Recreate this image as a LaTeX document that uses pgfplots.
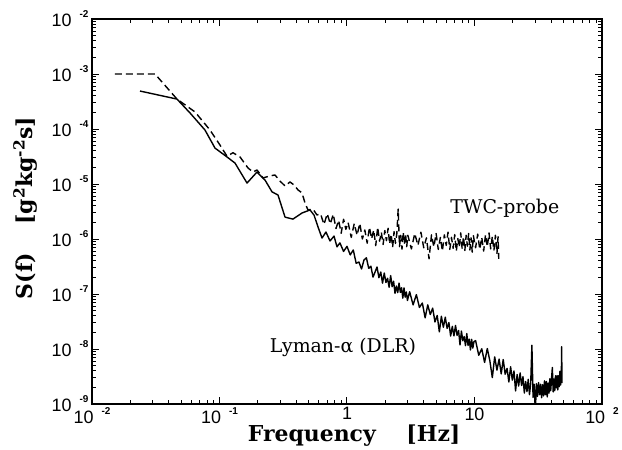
\documentclass[border=0pt]{standalone}
\usepackage{fontspec}
\setmainfont{DejaVu Serif}
\setsansfont{Liberation Sans}
\usepackage{pgfplots}
\pgfplotsset{compat=1.18}

% tick label of the form 10^n, exponent set as raised small bold text
\newcommand{\tenexp}[1]{10\hspace{8bp}\raisebox{9bp}{\fontsize{10}{10}\selectfont\bfseries #1}}
\newcommand{\lblfont}{\fontsize{22}{26}\selectfont\bfseries}

\begin{document}
\begin{tikzpicture}
\begin{axis}[
  name=ax,
  scale only axis,
  width=510bp, height=385bp,
  xmode=log, ymode=log,
  xmin=1e-2, xmax=1e2,
  ymin=1e-9, ymax=1e-2,
  xtick={1e-2,1e-1,1,10,100},
  xticklabels={\tenexp{-2},\tenexp{-1},1,10,\tenexp{2}},
  ytick={1e-9,1e-8,1e-7,1e-6,1e-5,1e-4,1e-3,1e-2},
  yticklabels={\tenexp{-9},\tenexp{-8},\tenexp{-7},\tenexp{-6},\tenexp{-5},\tenexp{-4},\tenexp{-3},\tenexp{-2}},
  tick label style={font=\sffamily\fontsize{18}{18}\selectfont},
  axis line style={line width=1.4bp},
  tick style={line width=1bp, black},
  tick align=inside,
  major tick length=7bp,
  minor tick length=4bp,
  xlabel={\lblfont Frequency\hspace{1.4em}[Hz]},
  ylabel={\lblfont S(f)\hspace{1.3em}[g\textsuperscript{2}kg\textsuperscript{-2}s]},
  every axis x label/.style={at={(axis description cs:0.514,-0.1195)}, anchor=south},
  every axis y label/.style={at={(axis description cs:-0.131,0.509)}, rotate=90, anchor=center},
]

% Lyman-alpha (DLR), solid
\addplot[black, line width=1.4bp, line join=round] coordinates {
(0.0238,4.9e-4)(0.0464,3.5e-4)(0.0588,1.95e-4)(0.0769,9.6e-5)(0.0922,4.5e-5)
(0.1146,3.1e-5)(0.1324,2.4e-5)(0.1644,1.04e-5)(0.1969,1.65e-5)(0.2275,1.18e-5)
(0.2582,7.2e-6)(0.2877,6.3e-6)(0.3266,2.5e-6)(0.377,2.3e-6)(0.4436,2.97e-6)
(0.5128,3.37e-6)(0.551,2.73e-6)(0.593,1.65e-6)(0.637,1.04e-6)(0.684,1.34e-6)
(0.736,9.2e-7)(0.791,1.13e-6)(0.835,7.2e-7)
(0.88,8.51e-7)(0.94,5.94e-7)(1.00,7.35e-7)(1.06,5.15e-7)(1.12,6.31e-7)
(1.18,3.62e-7)(1.24,3.82e-7)(1.30,2.85e-7)(1.36,4.17e-7)(1.42,4.55e-7)
(1.48,2.93e-7)(1.54,3.2e-7)(1.60,2.03e-7)(1.66,2.51e-7)(1.72,3.1e-7)
(1.78,1.98e-7)(1.84,2.51e-7)(1.90,1.57e-7)(1.96,2.41e-7)(2.02,1.62e-7)
(2.08,1.93e-7)(2.14,1.33e-7)(2.20,2.16e-7)(2.26,1.36e-7)(2.32,1.71e-7)
(2.38,1.03e-7)(2.44,1.40e-7)(2.50,1.06e-7)(2.56,1.58e-7)(2.62,1.07e-7)
(2.68,1.30e-7)(2.74,8.41e-8)(2.80,1.29e-7)(2.86,8.77e-8)(2.92,1.09e-7)
(2.98,7.62e-8)
(3.1,1.10e-7)(3.3,6.35e-8)(3.5,9.75e-8)(3.7,5.70e-8)(3.9,6.85e-8)
(4.1,3.69e-8)(4.3,6.34e-8)(4.5,4.24e-8)(4.7,5.53e-8)(4.9,3.10e-8)
(5.1,4.07e-8)(5.3,2.05e-8)(5.5,3.93e-8)(5.7,2.48e-8)(5.9,3.79e-8)
(6.1,2.37e-8)(6.3,3.02e-8)(6.5,1.72e-8)(6.7,2.58e-8)(6.9,1.73e-8)
(7.1,2.68e-8)(7.3,1.77e-8)(7.5,2.17e-8)(7.7,1.19e-8)(7.9,2.12e-8)
(8.1,1.41e-8)(8.3,1.69e-8)(8.5,1.15e-8)(8.7,1.91e-8)(8.9,1.16e-8)
(9.1,1.51e-8)(9.3,9.59e-9)(9.5,1.50e-8)(9.7,1.04e-8)(9.9,1.36e-8)
(10.2,1.42e-8)(10.8,7.71e-9)(11.4,1.01e-8)(12.0,5.71e-9)(12.6,1.02e-8)
(13.2,6.08e-9)(13.8,3.02e-9)(14.4,7.19e-9)(15.0,4.13e-9)(15.6,6.55e-9)
(16.2,3.52e-9)(16.8,6.44e-9)(17.4,3.49e-9)(18.0,4.44e-9)(18.6,2.52e-9)
(19.2,4.75e-9)(19.8,2.72e-9)(20.4,3.99e-9)(21.0,1.73e-9)(21.6,3.44e-9)
(22.2,2.12e-9)(22.8,3.68e-9)(23.4,2.17e-9)(24.0,3.14e-9)(24.6,1.58e-9)
(25.2,2.57e-9)(25.8,1.68e-9)(26.4,2.82e-9)(27.0,1.48e-9)(27.6,2.40e-9)
(28.2,1.17e-8)(28.8,1.32e-9)(29.4,2.29e-9)(30.0,7.16e-10)(30.6,2.34e-9)
(31.2,1.38e-9)(31.8,2.45e-9)(32.4,1.48e-9)(33.0,2.29e-9)(33.6,1.30e-9)
(34.2,2.24e-9)(34.8,1.40e-9)(35.4,2.63e-9)(36.0,1.48e-9)(36.6,2.57e-9)
(37.2,1.35e-9)(37.8,2.40e-9)(38.4,1.58e-9)(39.0,2.88e-9)(39.6,1.74e-9)
(40.2,2.88e-9)(40.8,4.62e-9)(41.4,1.66e-9)(42.0,2.85e-9)(42.6,1.74e-9)
(43.2,3.27e-9)(43.8,1.97e-9)(44.4,3.27e-9)(45.0,1.80e-9)(45.6,3.27e-9)
(46.2,2.07e-9)(46.8,3.94e-9)(47.4,2.21e-9)(48.0,3.63e-9)(48.3,1.1e-8)
(48.5,2.4e-9)
};

% TWC-probe, dashed
\addplot[black, line width=1.4bp, line join=round, dash pattern=on 7bp off 4bp] coordinates {
(0.0151,1.0e-3)(0.0312,1.0e-3)(0.0464,3.5e-4)(0.0643,2.04e-4)(0.0842,9.6e-5)
(0.1009,5.1e-5)(0.1146,3.2e-5)(0.1276,3.7e-5)(0.1449,3.1e-5)(0.1675,1.95e-5)
(0.1834,1.65e-5)(0.1969,1.8e-5)(0.2194,1.29e-5)(0.2489,1.40e-5)(0.2723,1.46e-5)
(0.2985,1.13e-5)(0.3266,9.2e-6)(0.3573,1.09e-5)(0.384,9.6e-6)(0.413,7.8e-6)
(0.4436,6.9e-6)(0.4688,4.5e-6)(0.4943,3.37e-6)(0.5407,3.5e-6)(0.582,2.73e-6)
(0.62,2.88e-6)(0.66,1.84e-6)(0.70,2.88e-6)(0.74,1.88e-6)(0.78,2.82e-6)
(0.82,1.55e-6)(0.86,2.19e-6)(0.90,1.27e-6)(0.94,2.29e-6)(0.98,1.50e-6)
(1.02,2.0e-6)(1.08,1.07e-6)(1.14,1.91e-6)(1.20,1.17e-6)(1.26,1.93e-6)
(1.32,1.0e-6)(1.38,1.46e-6)(1.44,8.41e-7)(1.50,1.64e-6)(1.56,1.01e-6)
(1.62,1.46e-6)(1.68,7.59e-7)(1.74,1.64e-6)(1.80,9.12e-7)(1.86,1.33e-6)
(1.92,7.94e-7)(1.98,1.43e-6)(2.04,9.33e-7)(2.10,1.57e-6)(2.16,8.13e-7)
(2.22,1.22e-6)(2.28,7.08e-7)(2.34,1.36e-6)(2.40,8.32e-7)(2.46,1.26e-6)
(2.52,3.5e-6)(2.58,7.24e-7)(2.64,1.17e-6)(2.70,6.53e-7)(2.76,1.33e-6)
(2.82,8.13e-7)(2.88,1.23e-6)(2.94,7.24e-7)(3.0,1.17e-6)
(3.2,6.61e-7)(3.4,1.26e-6)(3.6,7.67e-7)(3.8,1.33e-6)(4.0,6.92e-7)
(4.2,1.05e-6)(4.4,4.37e-7)(4.6,1.19e-6)(4.8,7.16e-7)(5.0,1.26e-6)
(5.2,6.46e-7)(5.4,1.07e-6)(5.6,6.03e-7)(5.8,1.19e-6)(6.0,7.67e-7)
(6.2,1.33e-6)(6.4,6.46e-7)(6.6,1.07e-6)(6.8,6.76e-7)(7.0,1.20e-6)
(7.2,6.03e-7)(7.4,1.02e-6)(7.6,7.08e-7)(7.8,1.29e-6)(8.0,6.61e-7)
(8.2,1.10e-6)(8.4,6.17e-7)(8.6,1.17e-6)(8.8,7.41e-7)(9.0,1.26e-6)
(9.2,6.31e-7)(9.4,1.05e-6)(9.6,5.75e-7)(9.8,1.15e-6)
(10.2,6.92e-7)(10.6,1.23e-6)(11.0,6.46e-7)(11.4,1.07e-6)(11.8,6.03e-7)
(12.2,1.20e-6)(12.6,7.24e-7)(13.0,1.29e-6)(13.4,6.61e-7)(13.8,1.12e-6)
(14.2,6.17e-7)(14.6,1.17e-6)(15.0,5.50e-7)(15.3,1.10e-6)(15.5,4.37e-7)
};

\node[font=\fontsize{19}{19}\selectfont] at (axis cs:17.3,3.66e-6) {TWC-probe};
\node[font=\fontsize{19}{19}\selectfont] at (axis cs:0.93,1.05e-8) {Lyman-α (DLR)};
\end{axis}
\pgfresetboundingbox
\path ([shift={(-92bp,-46bp)}]ax.south west) rectangle ([shift={(20bp,19bp)}]ax.north east);
\end{tikzpicture}
\end{document}
